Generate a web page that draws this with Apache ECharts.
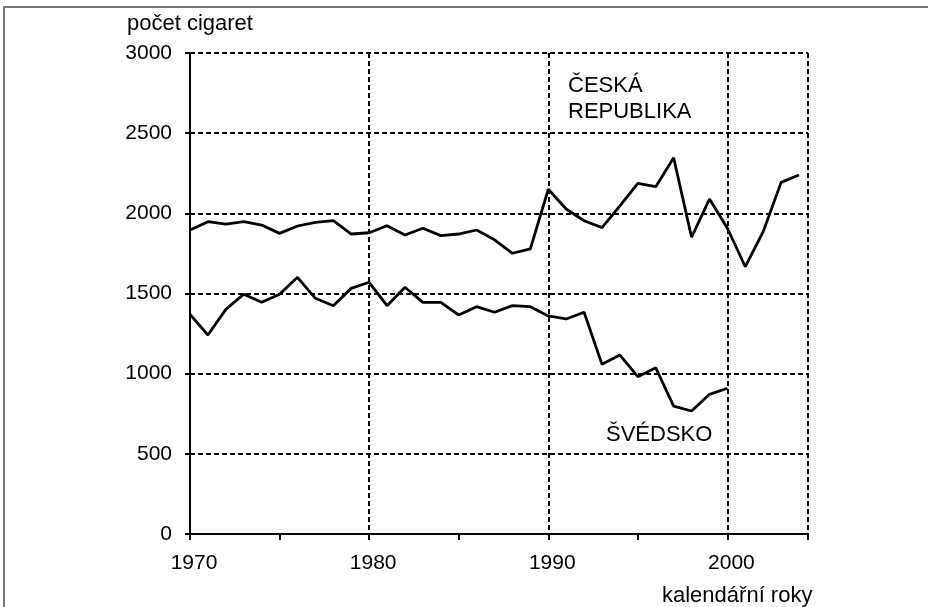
<!DOCTYPE html>
<html>
<head>
<meta charset="utf-8">
<script src="https://cdn.jsdelivr.net/npm/echarts@6/dist/echarts.min.js"></script>
<style>
  html, body { margin: 0; padding: 0; background: #fff; }
  #chart { width: 928px; height: 607px; }
</style>
</head>
<body>
<div id="chart"></div>
<script>
// roky 1970-2004
var years = [];
for (var y = 1970; y <= 2004; y++) years.push(y);

// Česká republika (1970-2004)
var ceskaRep = [1896, 1948, 1932, 1948, 1927, 1875, 1921, 1944, 1954, 1871,
  1879, 1923, 1865, 1907, 1861, 1871, 1896, 1835, 1751, 1778,
  2150, 2027, 1954, 1911, 2046, 2187, 2166, 2347, 1851, 2089,
  1907, 1667, 1886, 2193, 2239];

// Švédsko (1970-2000)
var svedsko = [1370, 1241, 1401, 1495, 1445, 1495, 1601, 1470, 1424, 1532,
  1570, 1424, 1539, 1445, 1445, 1366, 1418, 1383, 1424, 1418,
  1360, 1341, 1383, 1058, 1116, 981, 1037, 798, 767, 871,
  909];

var yTicks = [0, 500, 1000, 1500, 2000, 2500, 3000];

function pairs(vals) {
  return vals.map(function (v, i) { return [years[i], v]; });
}

var font = 'Liberation Sans, Arial, sans-serif';
var gridDash = { color: '#000', width: 2, type: [5, 3] };

var chart = echarts.init(document.getElementById('chart'));

var option = {
  backgroundColor: '#fff',
  animation: false,
  grid: { left: 190, top: 53, right: 120, bottom: 73, containLabel: false },
  xAxis: [{
    type: 'value',
    min: 1970,
    max: 2004.5,
    interval: 10,
    axisLine: { show: true, onZero: false, lineStyle: { color: '#000', width: 2 } },
    axisTick: { show: false },
    axisLabel: {
      color: '#000', fontSize: 21, fontFamily: font, margin: 19,
      padding: [0, 0, 0, 8],
      showMaxLabel: true,
      formatter: function (v) { return v % 10 === 0 ? String(v) : ''; }
    },
    splitLine: { show: true, lineStyle: gridDash }
  }, {
    type: 'value',
    position: 'bottom',
    min: 1970,
    max: 2004.5,
    interval: 5,
    axisLine: { show: false },
    axisTick: { show: true, inside: false, length: 6, lineStyle: { color: '#000', width: 2 } },
    axisLabel: { show: false },
    splitLine: { show: false }
  }],
  yAxis: [{
    type: 'value',
    min: yTicks[0],
    max: yTicks[yTicks.length - 1],
    interval: 500,
    axisLine: { show: true, lineStyle: { color: '#000', width: 2 } },
    axisTick: { show: true, length: 5, lineStyle: { color: '#000', width: 2 } },
    axisLabel: {
      color: '#000', fontSize: 21, fontFamily: font, margin: 18,
      formatter: function (v) { return String(v); }
    },
    splitLine: { show: true, lineStyle: gridDash }
  }],
  series: [{
    name: 'ČESKÁ REPUBLIKA',
    type: 'line',
    data: pairs(ceskaRep),
    showSymbol: false,
    lineStyle: { color: '#000', width: 2.8 },
    z: 5
  }, {
    name: 'ŠVÉDSKO',
    type: 'line',
    data: pairs(svedsko),
    showSymbol: false,
    lineStyle: { color: '#000', width: 2.8 },
    z: 5
  }],
  graphic: [
    // šedý rámeček nahoře a vlevo
    { type: 'line', shape: { x1: 4, y1: 7, x2: 928, y2: 7 }, style: { stroke: '#777', lineWidth: 2 } },
    { type: 'line', shape: { x1: 4, y1: 6, x2: 4, y2: 607 }, style: { stroke: '#777', lineWidth: 2 } },
    { type: 'text', left: 127, top: 13, style: { text: 'počet cigaret', fontSize: 22, fontFamily: font, fill: '#000' } },
    { type: 'text', left: 662, top: 585, style: { text: 'kalendářní roky', fontSize: 22, fontFamily: font, fill: '#000' } },
    { type: 'text', left: 568, top: 73, style: { text: 'ČESKÁ\nREPUBLIKA', fontSize: 22, lineHeight: 26, fontFamily: font, fill: '#000' } },
    { type: 'text', left: 606, top: 424, style: { text: 'ŠVÉDSKO', fontSize: 22, fontFamily: font, fill: '#000' } }
  ]
};

chart.setOption(option);
</script>
</body>
</html>
